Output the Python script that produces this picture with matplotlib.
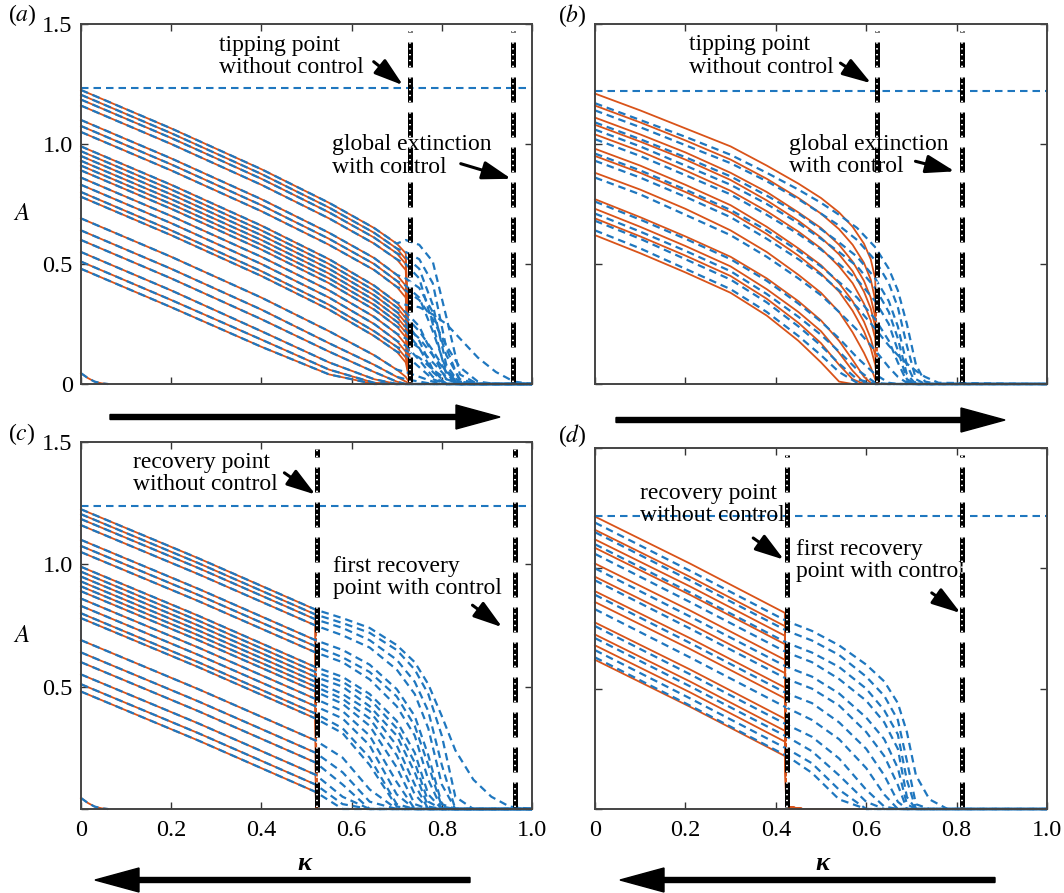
import matplotlib.pyplot as plt
from matplotlib.patches import FancyArrow

ORANGE = '#d95319'
BLUE = '#1f77bf'

plt.rcParams['font.family'] = ['Liberation Serif', 'DejaVu Serif']
plt.rcParams['mathtext.fontset'] = 'stix'

# ---------------- panel (a): forward sweep ----------------
kappa_a = [0.0, 0.2, 0.4, 0.55, 0.65, 0.70, 0.72]
solid_a = [
    [1.225, 1.065, 0.895, 0.755, 0.650, 0.585, 0.545],
    [1.205, 1.045, 0.875, 0.735, 0.630, 0.565, 0.520],
    [1.185, 1.025, 0.855, 0.715, 0.610, 0.545, 0.500],
    [1.160, 1.000, 0.830, 0.690, 0.585, 0.520, 0.475],
    [1.100, 0.940, 0.770, 0.630, 0.525, 0.455, 0.410],
    [1.075, 0.915, 0.745, 0.605, 0.500, 0.430, 0.385],
    [1.050, 0.890, 0.720, 0.580, 0.475, 0.405, 0.360],
    [0.990, 0.830, 0.660, 0.520, 0.410, 0.340, 0.295],
    [0.970, 0.810, 0.640, 0.500, 0.390, 0.320, 0.275],
    [0.950, 0.790, 0.620, 0.480, 0.370, 0.300, 0.255],
    [0.930, 0.770, 0.600, 0.460, 0.350, 0.280, 0.235],
    [0.910, 0.750, 0.580, 0.440, 0.330, 0.260, 0.215],
    [0.890, 0.730, 0.560, 0.420, 0.310, 0.240, 0.195],
    [0.860, 0.700, 0.530, 0.390, 0.280, 0.210, 0.165],
    [0.830, 0.670, 0.500, 0.360, 0.250, 0.180, 0.135],
    [0.800, 0.640, 0.470, 0.330, 0.220, 0.155, 0.110],
    [0.780, 0.620, 0.450, 0.310, 0.200, 0.135, 0.090],
    [0.690, 0.530, 0.360, 0.220, 0.120, 0.060, 0.030],
    [0.640, 0.480, 0.310, 0.170, 0.080, 0.030, 0.010],
    [0.600, 0.440, 0.270, 0.135, 0.050, 0.010, 0.000],
    [0.550, 0.390, 0.220, 0.090, 0.020, 0.000, 0.000],
    [0.510, 0.350, 0.185, 0.060, 0.005, 0.000, 0.000],
    [0.480, 0.320, 0.155, 0.040, 0.000, 0.000, 0.000],
]
tail_kappa_a = [0.72, 0.75, 0.78, 0.81, 0.84, 0.88, 0.92, 0.96, 1.0]
dash_tail_a = [
    [0.600, 0.580, 0.510, 0.280, 0.040, 0, 0, 0, 0],
    [0.550, 0.520, 0.420, 0.150, 0.010, 0, 0, 0, 0],
    [0.530, 0.480, 0.330, 0.080, 0, 0, 0, 0, 0],
    [0.500, 0.440, 0.250, 0.040, 0, 0, 0, 0, 0],
    [0.440, 0.400, 0.300, 0.120, 0.020, 0, 0, 0, 0],
    [0.410, 0.360, 0.220, 0.060, 0, 0, 0, 0, 0],
    [0.390, 0.350, 0.270, 0.160, 0.070, 0.010, 0, 0, 0],
    [0.330, 0.320, 0.290, 0.250, 0.190, 0.110, 0.050, 0.010, 0],
    [0.300, 0.240, 0.120, 0.020, 0, 0, 0, 0, 0],
    [0.280, 0.220, 0.140, 0.050, 0, 0, 0, 0, 0],
    [0.260, 0.180, 0.060, 0, 0, 0, 0, 0, 0],
    [0.240, 0.190, 0.120, 0.050, 0.010, 0, 0, 0, 0],
    [0.220, 0.150, 0.050, 0, 0, 0, 0, 0, 0],
    [0.190, 0.150, 0.090, 0.030, 0, 0, 0, 0, 0],
    [0.160, 0.100, 0.030, 0, 0, 0, 0, 0, 0],
    [0.140, 0.110, 0.060, 0.020, 0, 0, 0, 0, 0],
    [0.120, 0.070, 0.020, 0, 0, 0, 0, 0, 0],
    [0.050, 0.030, 0.010, 0, 0, 0, 0, 0, 0],
    [0.020, 0.010, 0, 0, 0, 0, 0, 0, 0],
    [0, 0, 0, 0, 0, 0, 0, 0, 0],
    [0, 0, 0, 0, 0, 0, 0, 0, 0],
    [0, 0, 0, 0, 0, 0, 0, 0, 0],
    [0, 0, 0, 0, 0, 0, 0, 0, 0],
]

# ---------------- panel (b): forward sweep, other network ----------------
kappa_b = [0.0, 0.1, 0.2, 0.3, 0.38, 0.45, 0.5, 0.54, 0.57, 0.595, 0.61, 0.62]
solid_b = [
    [1.210, 1.140, 1.065, 0.990, 0.910, 0.835, 0.775, 0.715, 0.655, 0.585, 0.520, 0.440],
    [1.160, 1.090, 1.015, 0.935, 0.855, 0.775, 0.710, 0.645, 0.580, 0.505, 0.435, 0.350],
    [1.110, 1.040, 0.965, 0.880, 0.800, 0.715, 0.650, 0.580, 0.510, 0.430, 0.360, 0.280],
    [1.080, 1.010, 0.935, 0.850, 0.765, 0.680, 0.610, 0.540, 0.470, 0.385, 0.315, 0.240],
    [1.040, 0.970, 0.890, 0.805, 0.720, 0.635, 0.565, 0.490, 0.420, 0.335, 0.265, 0.190],
    [0.980, 0.910, 0.830, 0.745, 0.655, 0.565, 0.495, 0.420, 0.345, 0.260, 0.190, 0.120],
    [0.950, 0.880, 0.800, 0.715, 0.625, 0.535, 0.460, 0.385, 0.305, 0.220, 0.150, 0.080],
    [0.880, 0.810, 0.730, 0.640, 0.550, 0.455, 0.380, 0.300, 0.215, 0.130, 0.070, 0.020],
    [0.770, 0.695, 0.615, 0.530, 0.440, 0.345, 0.265, 0.180, 0.100, 0.030, 0.005, 0.000],
    [0.730, 0.655, 0.575, 0.490, 0.395, 0.300, 0.220, 0.130, 0.055, 0.005, 0.000, 0.000],
    [0.690, 0.615, 0.535, 0.450, 0.355, 0.255, 0.170, 0.080, 0.020, 0.000, 0.000, 0.000],
    [0.620, 0.545, 0.465, 0.380, 0.285, 0.180, 0.090, 0.010, 0.000, 0.000, 0.000, 0.000],
]
kappa_b_dash = [0.0, 0.1, 0.2, 0.3, 0.38, 0.45, 0.5, 0.54, 0.58, 0.62, 0.65, 0.67, 0.69,
                0.71, 0.73, 0.76, 1.0]
dash_b = [
    [1.170, 1.100, 1.030, 0.955, 0.880, 0.810, 0.755, 0.705, 0.650, 0.570, 0.480, 0.390, 0.250, 0.080, 0.010, 0, 0],
    [1.140, 1.070, 0.995, 0.920, 0.845, 0.770, 0.710, 0.660, 0.600, 0.515, 0.420, 0.320, 0.160, 0.020, 0, 0, 0],
    [1.090, 1.020, 0.945, 0.865, 0.785, 0.710, 0.645, 0.590, 0.530, 0.440, 0.345, 0.240, 0.080, 0, 0, 0, 0],
    [1.060, 0.990, 0.910, 0.830, 0.750, 0.670, 0.605, 0.550, 0.490, 0.400, 0.300, 0.190, 0.040, 0, 0, 0, 0],
    [1.020, 0.950, 0.870, 0.790, 0.705, 0.625, 0.560, 0.500, 0.435, 0.345, 0.250, 0.140, 0.020, 0, 0, 0, 0],
    [0.960, 0.890, 0.810, 0.725, 0.640, 0.555, 0.490, 0.425, 0.360, 0.270, 0.180, 0.090, 0.010, 0, 0, 0, 0],
    [0.930, 0.860, 0.780, 0.695, 0.605, 0.520, 0.455, 0.390, 0.320, 0.230, 0.160, 0.120, 0.085, 0.055, 0.030, 0.005, 0],
    [0.860, 0.790, 0.705, 0.620, 0.530, 0.440, 0.370, 0.300, 0.225, 0.140, 0.070, 0.030, 0.005, 0, 0, 0, 0],
    [0.760, 0.685, 0.605, 0.520, 0.430, 0.335, 0.260, 0.190, 0.110, 0.040, 0.005, 0, 0, 0, 0, 0, 0],
    [0.710, 0.635, 0.555, 0.470, 0.375, 0.280, 0.205, 0.135, 0.060, 0.005, 0, 0, 0, 0, 0, 0, 0],
    [0.680, 0.605, 0.520, 0.435, 0.340, 0.240, 0.160, 0.085, 0.020, 0, 0, 0, 0, 0, 0, 0, 0],
    [0.640, 0.565, 0.480, 0.395, 0.300, 0.200, 0.120, 0.050, 0.005, 0, 0, 0, 0, 0, 0, 0, 0],
]

# ---------------- panel (c): backward sweep ----------------
kappa_c = [0.0, 0.26, 0.52]
solid_c = [
    [1.225, 1.025, 0.815], [1.205, 1.005, 0.795], [1.185, 0.985, 0.775],
    [1.160, 0.960, 0.750], [1.100, 0.900, 0.690], [1.075, 0.875, 0.665],
    [1.050, 0.850, 0.640], [0.990, 0.790, 0.580], [0.970, 0.770, 0.560],
    [0.950, 0.750, 0.540], [0.930, 0.730, 0.520], [0.910, 0.710, 0.500],
    [0.890, 0.690, 0.480], [0.860, 0.660, 0.450], [0.830, 0.630, 0.420],
    [0.800, 0.600, 0.390], [0.780, 0.580, 0.370], [0.690, 0.490, 0.280],
    [0.640, 0.440, 0.230], [0.600, 0.400, 0.190], [0.550, 0.350, 0.140],
    [0.510, 0.310, 0.100], [0.480, 0.280, 0.070],
]
tail_kappa_c = [0.52, 0.58, 0.64, 0.70, 0.74, 0.77, 0.80, 0.83, 0.87, 0.91, 0.95, 1.0]
dash_tail_c = [
    [0.815, 0.780, 0.740, 0.670, 0.600, 0.510, 0.380, 0.240, 0.120, 0.050, 0.010, 0],
    [0.795, 0.760, 0.720, 0.650, 0.570, 0.470, 0.300, 0.050, 0, 0, 0, 0],
    [0.775, 0.740, 0.690, 0.610, 0.520, 0.400, 0.180, 0, 0, 0, 0, 0],
    [0.750, 0.710, 0.660, 0.570, 0.470, 0.330, 0.100, 0, 0, 0, 0, 0],
    [0.690, 0.650, 0.590, 0.490, 0.380, 0.220, 0.020, 0, 0, 0, 0, 0],
    [0.665, 0.620, 0.560, 0.460, 0.340, 0.180, 0.010, 0, 0, 0, 0, 0],
    [0.640, 0.600, 0.530, 0.420, 0.300, 0.120, 0, 0, 0, 0, 0, 0],
    [0.580, 0.540, 0.470, 0.360, 0.230, 0.060, 0, 0, 0, 0, 0, 0],
    [0.560, 0.520, 0.450, 0.330, 0.190, 0.030, 0, 0, 0, 0, 0, 0],
    [0.540, 0.500, 0.420, 0.300, 0.150, 0.010, 0, 0, 0, 0, 0, 0],
    [0.520, 0.470, 0.400, 0.260, 0.100, 0, 0, 0, 0, 0, 0, 0],
    [0.500, 0.450, 0.370, 0.220, 0.060, 0, 0, 0, 0, 0, 0, 0],
    [0.480, 0.430, 0.340, 0.170, 0.020, 0, 0, 0, 0, 0, 0, 0],
    [0.450, 0.400, 0.300, 0.110, 0, 0, 0, 0, 0, 0, 0, 0],
    [0.420, 0.370, 0.260, 0.060, 0, 0, 0, 0, 0, 0, 0, 0],
    [0.390, 0.330, 0.210, 0.020, 0, 0, 0, 0, 0, 0, 0, 0],
    [0.370, 0.310, 0.180, 0.010, 0, 0, 0, 0, 0, 0, 0, 0],
    [0.280, 0.210, 0.080, 0, 0, 0, 0, 0, 0, 0, 0, 0],
    [0.230, 0.150, 0.030, 0, 0, 0, 0, 0, 0, 0, 0, 0],
    [0.190, 0.100, 0, 0, 0, 0, 0, 0, 0, 0, 0, 0],
    [0.140, 0.050, 0, 0, 0, 0, 0, 0, 0, 0, 0, 0],
    [0.100, 0.020, 0, 0, 0, 0, 0, 0, 0, 0, 0, 0],
    [0.070, 0, 0, 0, 0, 0, 0, 0, 0, 0, 0, 0],
]

# ---------------- panel (d): backward sweep, other network ----------------
kappa_d = [0.0, 0.21, 0.42]
solid_d = [
    [1.215, 1.020, 0.815], [1.160, 0.965, 0.760], [1.120, 0.925, 0.720],
    [1.085, 0.890, 0.685], [1.020, 0.825, 0.620], [0.965, 0.770, 0.565],
    [0.905, 0.710, 0.505], [0.860, 0.665, 0.460], [0.775, 0.580, 0.375],
    [0.725, 0.530, 0.325], [0.680, 0.485, 0.280], [0.620, 0.425, 0.220],
]
foot_kappa_d = [0.423, 0.43, 0.46, 1.0]
foot_d = [0.02, 0.008, 0.0, 0.0]
kappa_d_dash = [0.0, 0.21, 0.425, 0.48, 0.54, 0.60, 0.64, 0.67, 0.69, 0.71, 0.74, 0.78, 1.0]
dash_d = [
    [1.190, 0.990, 0.780, 0.740, 0.680, 0.600, 0.530, 0.440, 0.320, 0.140, 0.040, 0, 0],
    [1.150, 0.950, 0.740, 0.700, 0.640, 0.550, 0.470, 0.370, 0.200, 0.020, 0, 0, 0],
    [1.100, 0.900, 0.690, 0.650, 0.590, 0.500, 0.410, 0.310, 0.120, 0, 0, 0, 0],
    [1.060, 0.860, 0.650, 0.610, 0.540, 0.450, 0.360, 0.250, 0.050, 0, 0, 0, 0],
    [1.000, 0.800, 0.590, 0.550, 0.480, 0.380, 0.290, 0.170, 0.020, 0, 0, 0, 0],
    [0.950, 0.750, 0.540, 0.500, 0.430, 0.320, 0.220, 0.100, 0, 0, 0, 0, 0],
    [0.890, 0.690, 0.480, 0.440, 0.360, 0.250, 0.140, 0.030, 0, 0, 0, 0, 0],
    [0.830, 0.630, 0.420, 0.370, 0.290, 0.170, 0.060, 0, 0, 0, 0, 0, 0],
    [0.760, 0.560, 0.350, 0.300, 0.210, 0.080, 0.010, 0, 0, 0, 0, 0, 0],
    [0.710, 0.510, 0.300, 0.240, 0.140, 0.030, 0, 0, 0, 0, 0, 0, 0],
    [0.660, 0.460, 0.250, 0.190, 0.080, 0, 0, 0, 0, 0, 0, 0, 0],
    [0.630, 0.430, 0.220, 0.150, 0.040, 0, 0, 0, 0, 0, 0, 0, 0],
]

# small branch near the origin in (a) and (c)
kappa_mini = [0.0, 0.015, 0.03, 0.045, 0.06]
mini = [0.045, 0.025, 0.010, 0.003, 0.0]

# horizontal dashed level and vertical markers
levels = {'a': 1.235, 'b': 1.22, 'c': 1.237, 'd': 1.218}
markers = {'a': [0.73, 0.958], 'b': [0.624, 0.811], 'c': [0.524, 0.962], 'd': [0.425, 0.813]}

# annotations: text, text position, arrow tail, arrow head (data coords)
notes = {
    'a': [('tipping point\nwithout control', (0.305, 1.364), (0.649, 1.343), (0.714, 1.245)),
          ('global extinction\nwith control', (0.556, 0.950), (0.842, 0.918), (0.954, 0.855))],
    'b': [('tipping point\nwithout control', (0.208, 1.366), (0.543, 1.337), (0.611, 1.253)),
          ('global extinction\nwith control', (0.430, 0.952), (0.709, 0.928), (0.796, 0.886))],
    'c': [('recovery point\nwithout control', (0.115, 1.371), (0.451, 1.374), (0.520, 1.285)),
          ('first recovery\npoint with control', (0.559, 0.946), (0.868, 0.833), (0.934, 0.743))],
    'd': [('recovery point\nwithout control', (0.099, 1.265), (0.350, 1.126), (0.418, 1.036)),
          ('first recovery\npoint with control', (0.444, 1.033), (0.745, 0.898), (0.809, 0.814))],
}

W, H = 1064, 893
fig = plt.figure(figsize=(W / 100, H / 100), dpi=100)


def px_rect(x0, y0, x1, y1):
    return [x0 / W, 1 - y1 / H, (x1 - x0) / W, (y1 - y0) / H]


axes = {
    'a': fig.add_axes(px_rect(81, 24, 532, 384)),
    'b': fig.add_axes(px_rect(595, 24, 1047, 384)),
    'c': fig.add_axes(px_rect(81, 442, 532, 809)),
    'd': fig.add_axes(px_rect(595, 448, 1047, 809)),
}


def solid(ax, k, v):
    ax.plot(k, v, color=ORANGE, lw=1.3, zorder=2, clip_on=False)


def dashed(ax, k, v):
    ax.plot(k, v, color=BLUE, lw=1.6, dashes=(3.4, 2.2), zorder=2.2, clip_on=False)


# panel a
ax = axes['a']
for row in solid_a:
    solid(ax, kappa_a + [0.73, 1.0], row + [0.0, 0.0])
for row, tail in zip(solid_a, dash_tail_a):
    dashed(ax, kappa_a[:6] + tail_kappa_a, row[:6] + tail)

# panel b
ax = axes['b']
for row in solid_b:
    solid(ax, kappa_b + [0.625, 1.0], row + [0.0, 0.0])
for row in dash_b:
    dashed(ax, kappa_b_dash, row)

# panel c
ax = axes['c']
for row in solid_c:
    solid(ax, kappa_c + [0.522, 1.0], row + [0.0, 0.0])
for row, tail in zip(solid_c, dash_tail_c):
    dashed(ax, kappa_c[:2] + tail_kappa_c, row[:2] + tail)

# panel d
ax = axes['d']
for row in solid_d:
    solid(ax, kappa_d + foot_kappa_d, row + foot_d)
for row in dash_d:
    dashed(ax, kappa_d_dash, row)

for key in ['a', 'c']:
    solid(axes[key], kappa_mini, mini)
    dashed(axes[key], kappa_mini, mini)

for key, ax in axes.items():
    ax.plot([0, 1], [levels[key]] * 2, color=BLUE, lw=1.5, dashes=(3.6, 2.4), zorder=2.3)
    for m in markers[key]:
        ax.plot([m, m], [0.01, 1.47], color='black', lw=3.6, dashes=(5.0, 2.0),
                solid_capstyle='butt', zorder=4)
        ax.plot([m, m], [0.01, 1.47], color='white', lw=1.4, dashes=(0.7, 2.3), zorder=4.1)
    for txt, pos, tail, head in notes[key]:
        ax.text(pos[0], pos[1], txt, fontsize=17, ha='left', va='center', zorder=3,
                linespacing=1.1)
        ax.annotate('', xy=head, xytext=tail,
                    arrowprops=dict(arrowstyle='-|>,head_length=1.1,head_width=0.35',
                                    color='black', lw=2.2, mutation_scale=16,
                                    shrinkA=0, shrinkB=0),
                    zorder=5)

    ax.set_xlim(0, 1)
    ax.set_ylim(0, 1.5)
    ax.set_xticks([0, 0.2, 0.4, 0.6, 0.8, 1.0])
    ax.set_yticks([0, 0.5, 1.0, 1.5])
    ax.tick_params(direction='in', length=5, width=1.0, top=True, right=True,
                   labelsize=17.5, pad=6, colors='#333333', labelcolor='black')
    for sp in ax.spines.values():
        sp.set_linewidth(1.4)
        sp.set_color('#444444')

axes['a'].set_yticklabels(['0', '0.5', '1.0', '1.5'])
axes['c'].set_yticklabels(['', '0.5', '1.0', '1.5'])
axes['b'].set_yticklabels([])
axes['d'].set_yticklabels([])
axes['a'].set_xticklabels([])
axes['b'].set_xticklabels([])
for key in ['c', 'd']:
    axes[key].set_xticklabels(['0', '0.2', '0.4', '0.6', '0.8', '1.0'])
    axes[key].tick_params(axis='x', pad=8)

# panel letters and axis labels in figure pixels
for lab, (x, y) in {'a': (8, 15), 'b': (558, 16), 'c': (8, 434), 'd': (558, 436)}.items():
    fig.text(x / W, 1 - y / H, '($%s$)' % lab, fontsize=17, ha='left', va='center')
for y in [214, 636]:
    fig.text(22 / W, 1 - y / H, '$A$', fontsize=18, ha='center', va='center')
for x in [304, 822]:
    fig.text(x / W, 1 - 863 / H, 'κ', fontsize=19, ha='center', va='center',
             fontweight='bold', fontstyle='italic')

# sweep direction arrows
for x0, x1, y in [(110, 500, 417), (616, 1005, 420), (470, 95, 880), (995, 620, 880)]:
    fig.add_artist(FancyArrow(x0 / W, 1 - y / H, (x1 - x0) / W, 0,
                              width=5 / H, head_width=24 / H, head_length=44 / W,
                              length_includes_head=True, color='black',
                              transform=fig.transFigure))

fig.savefig('out.png', dpi=100)
